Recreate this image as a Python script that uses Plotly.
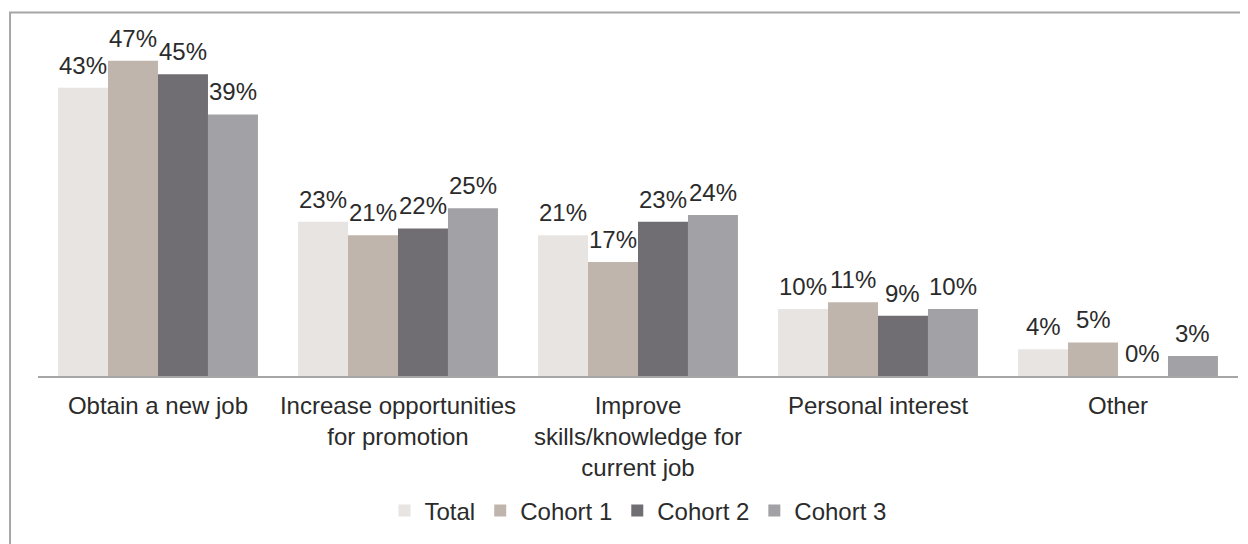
import plotly.graph_objects as go

categories = ["Obtain a new job", "Increase opportunities<br>for promotion",
              "Improve<br>skills/knowledge for<br>current job", "Personal interest", "Other"]
series_names = ["Total", "Cohort 1", "Cohort 2", "Cohort 3"]
total = [43, 23, 21, 10, 4]
cohort1 = [47, 21, 17, 11, 5]
cohort2 = [45, 22, 23, 9, 0]
cohort3 = [39, 25, 24, 10, 3]
colors = ["#E8E4E1", "#BFB5AC", "#706E72", "#A2A1A6"]

# page has an 8px body margin, so the figure is shrunk by that much
W, H = 1240, 536
L, R, T, B = 30, 10, 22, 168
bar_px = (W - L - R) / len(categories) * (1 - 0.167) / len(series_names)

fig = go.Figure()
annotations = []
for i, (name, vals, col) in enumerate(zip(series_names, [total, cohort1, cohort2, cohort3], colors)):
    fig.add_trace(go.Bar(x=categories, y=vals, name=name, marker_color=col,
                         marker_line_width=0))
    for c, v in zip(categories, vals):
        annotations.append(dict(
            x=c, y=v, xref="x", yref="y", text=f"{v}%", showarrow=False,
            yanchor="bottom", xshift=(i - 1.5) * bar_px, yshift=7,
            font=dict(size=24, color="#2b2b2b")))

fig.update_layout(
    width=W, height=H,
    margin=dict(l=L, r=R, t=T, b=B),
    barmode="group", bargap=0.167, bargroupgap=0,
    plot_bgcolor="white", paper_bgcolor="white",
    font=dict(family="Liberation Sans, Arial", size=24, color="#2b2b2b"),
    legend=dict(orientation="h", x=0.5, xanchor="center", y=-0.39, yanchor="middle",
                font=dict(size=24), traceorder="normal"),
    xaxis=dict(showline=True, linecolor="#A6A6A6", linewidth=2, ticks="",
               tickfont=dict(size=24), ticklabelstandoff=7),
    yaxis=dict(visible=False, range=[0, 51.6]),
    annotations=annotations,
    shapes=[dict(type="rect", xref="paper", yref="paper",
                 x0=-0.0233, x1=1.2, y0=-1, y1=1.0506,
                 line=dict(color="#A6A6A6", width=2), layer="below")],
)

fig.write_html("out.html")
